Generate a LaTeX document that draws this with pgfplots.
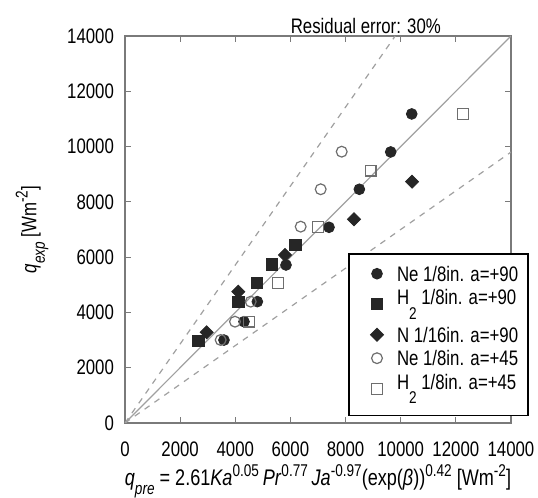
\documentclass[border=0pt]{standalone}
\usepackage{fontspec}
\setmainfont[FakeStretch=0.8]{Liberation Sans}
\usepackage{pgfplots}
\pgfplotsset{compat=1.18}
\definecolor{mk}{HTML}{262626}
\definecolor{fr}{HTML}{7A7A7A}
\definecolor{ln}{HTML}{A0A0A0}
\definecolor{op}{HTML}{6E6E6E}
\newcommand{\fs}{\fontsize{10.5}{12.5}\selectfont}
\newcommand{\sub}[1]{\raisebox{-0.75ex}{\fontsize{8.5}{9}\selectfont #1}}
\newcommand{\sups}[1]{\raisebox{0.8ex}{\fontsize{8.5}{9}\selectfont #1}}
\newcommand{\Htwo}{H\raisebox{-1.3ex}{\fontsize{8.5}{9}\selectfont 2}}
\begin{document}
\begin{tikzpicture}
\path[use as bounding box] (-62.5pt,-37.5pt) rectangle (206.5pt,211.5pt);
\begin{axis}[
  at={(0pt,0pt)}, anchor=south west,
  scale only axis, width=193pt, height=193.5pt,
  xmin=0, xmax=14000, ymin=0, ymax=14000,
  xtick={0,2000,...,14000}, ytick={0,2000,...,14000},
  scaled ticks=false,
  /pgf/number format/1000 sep={},
  /pgf/number format/assume math mode=true,
  tick align=inside, major tick length=3pt,
  axis line style={fr, line width=0.8pt},
  tick style={fr, line width=0.6pt},
  ticklabel style={font=\fs, text=black},
  xticklabel style={inner sep=0.5pt, yshift=-8.5pt},
  yticklabel style={xshift=-2pt},
  every axis title shift=0pt,
  title={Residual error: 30\%},
  title style={at={(rel axis cs:0.624,1)}, anchor=base, yshift=1pt, font=\fs},
  xlabel={\textit{q}\sub{\textit{pre}} = 2.61\textit{Ka}\sups{0.05}\,\textit{Pr}\sups{0.77}\,\textit{Ja}\sups{-0.97}(exp(\textit{β}))\sups{0.42} [Wm\sups{-2}]},
  xlabel style={at={(rel axis cs:0.5,0)}, anchor=base, yshift=-31.5pt, inner sep=0pt,
    font=\fontsize{11.3}{13}\selectfont},
  ylabel={\textit{q}\sub{\textit{exp}} [Wm\sups{-2}]},
  ylabel style={at={(rel axis cs:0,0.5)}, anchor=center, yshift=46.5pt, font=\fs},
  legend style={at={(rel axis cs:0.578,0.439)}, anchor=north west,
    draw=black, line width=0.9pt, font=\fs, inner xsep=3pt, inner ysep=4pt,
    row sep=0pt, nodes={text depth=}},
  legend cell align=left,
  legend image code/.code={\path[draw=none] (-11pt,0pt) (8pt,0pt);
    \draw[#1] plot coordinates {(0cm,0cm)};},
]
\addplot[ln, line width=0.6pt, forget plot] coordinates {(0,0) (14000,14000)};
\addplot[ln, dashed, line width=0.6pt, forget plot] coordinates {(0,0) (9800,14000)};
\addplot[ln, dashed, line width=0.6pt, forget plot] coordinates {(0,0) (14000,9800)};

\addplot[only marks, mark=*, mark size=2.7pt, mark options={draw=mk, fill=mk, line width=0.4pt}]
  coordinates {(3590,3000) (4316,3665) (4800,4390) (5840,5716) (7400,7080)
    (8500,8455) (9637,9805) (10400,11180)};
\addlegendentry{Ne 1/8in. a=+90}
\addplot[only marks, mark=square*, mark size=2.8pt, mark options={draw=mk, fill=mk, line width=0.4pt}]
  coordinates {(2660,2978) (4110,4390) (4776,5054) (5320,5740) (6178,6440)};
\addlegendentry{\Htwo{} 1/8in. a=+90}
\addplot[only marks, mark=square*, mark size=2.3pt, mark options={draw=mk, fill=mk, rotate=45, line width=0.4pt}]
  coordinates {(2963,3281) (4110,4750) (5803,6078) (8306,7370) (10410,8730)};
\addlegendentry{N 1/16in. a=+90}
\addplot[only marks, mark=o, mark size=2.7pt, mark options={draw=op, fill=white, line width=0.6pt}]
  coordinates {(3470,3003) (3990,3665) (4560,4390) (6372,7103) (7098,8455) (7860,9815)};
\addlegendentry{Ne 1/8in. a=+45}
\addplot[only marks, mark=square, mark size=2.7pt, mark options={draw=op, fill=white, line width=0.6pt}]
  coordinates {(4497,3665) (5560,5054) (6990,7080) (8910,9130) (12270,11180)};
\addlegendentry{\Htwo{} 1/8in. a=+45}
\end{axis}
\end{tikzpicture}
\end{document}
